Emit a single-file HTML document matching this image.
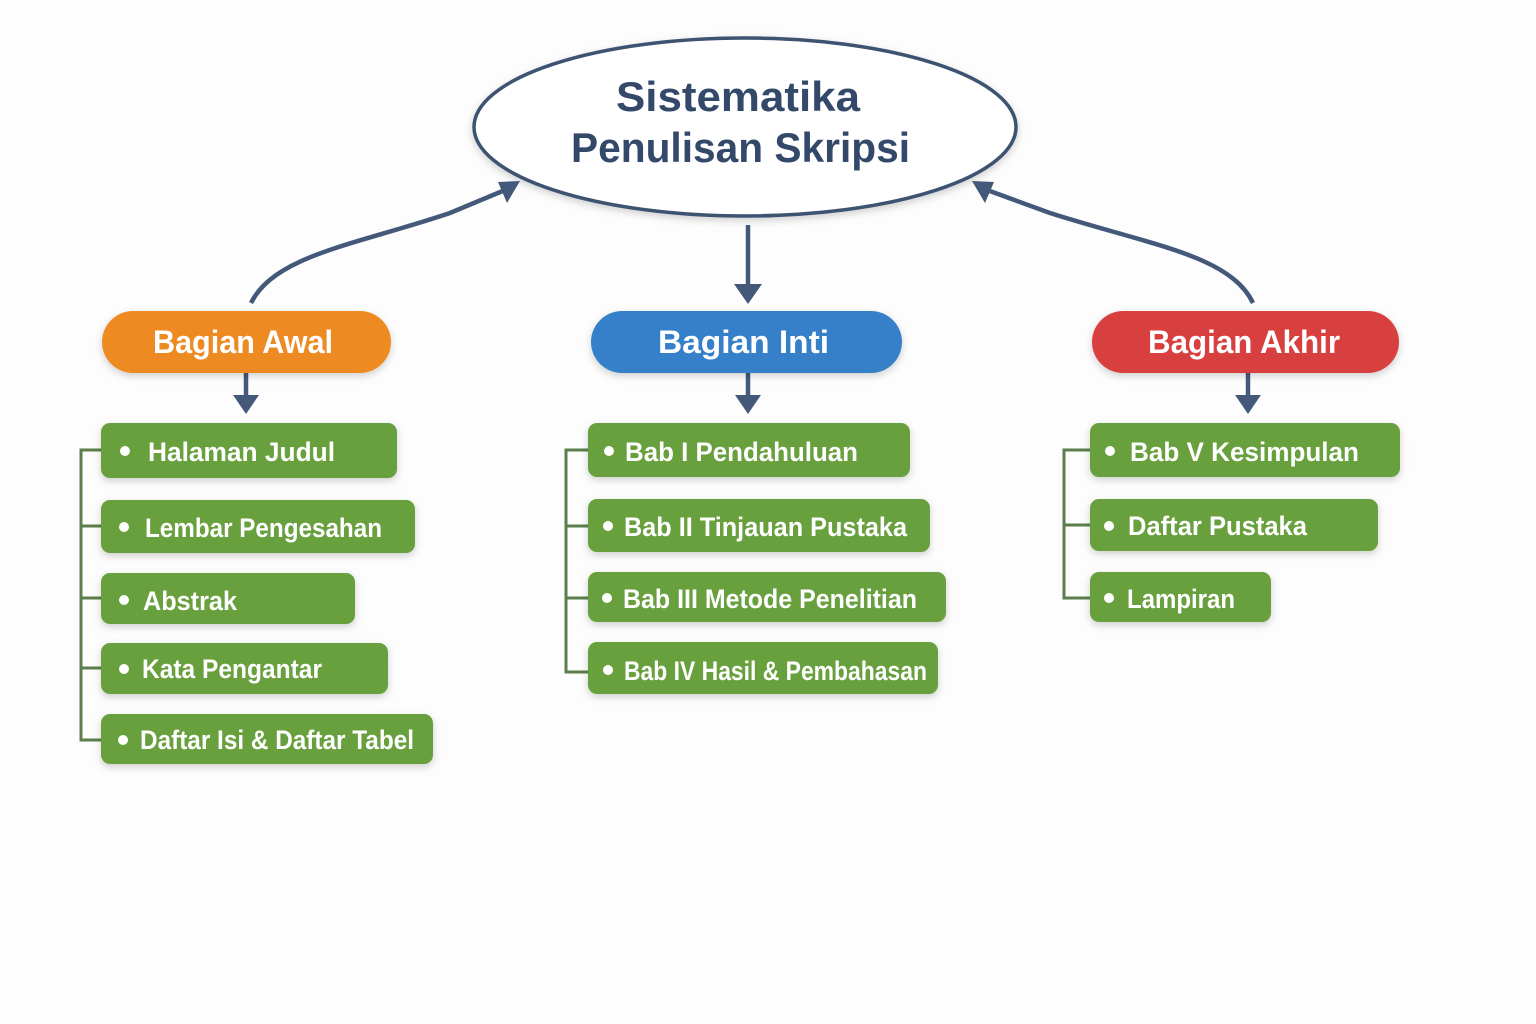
<!DOCTYPE html>
<html><head><meta charset="utf-8"><style>
html,body{margin:0;padding:0;background:#fdfdfd;}
svg{display:block;font-family:"Liberation Sans",sans-serif;font-weight:bold;}
</style></head><body>
<svg width="1536" height="1024" viewBox="0 0 1536 1024" xmlns="http://www.w3.org/2000/svg">
<defs>
<filter id="sh" x="-10%" y="-20%" width="120%" height="160%"><feDropShadow dx="0" dy="3" stdDeviation="4" flood-color="#000" flood-opacity="0.18"/></filter>
</defs>
<rect width="1536" height="1024" fill="#fdfdfd"/>
<!-- ellipse -->
<ellipse cx="745" cy="127" rx="271" ry="89" fill="#fff" stroke="#3e5272" stroke-width="3.5" filter="url(#sh)"/>
<text x="616" y="111" fill="#34496a" font-size="42" textLength="244" lengthAdjust="spacingAndGlyphs">Sistematika</text>
<text x="571" y="162" fill="#34496a" font-size="42" textLength="339" lengthAdjust="spacingAndGlyphs">Penulisan Skripsi</text>
<!-- connectors -->
<g stroke="#44597a" stroke-width="4.5" fill="none">
<path d="M251,303 C275,255 355,245 450,213 L505,190"/>
<path d="M1253,303 C1230,255 1150,245 1050,213 L987,190"/>
<line x1="748" y1="225" x2="748" y2="288"/>
<line x1="246" y1="373" x2="246" y2="398"/>
<line x1="748" y1="373" x2="748" y2="398"/>
<line x1="1248" y1="373" x2="1248" y2="398"/>
</g>
<g fill="#44597a">
<polygon points="520,181 498,182 507,203"/>
<polygon points="972,181 994,182 985,203"/>
<polygon points="734,284 762,284 748,304"/>
<polygon points="233,395 259,395 246,414"/>
<polygon points="735,395 761,395 748,414"/>
<polygon points="1235,395 1261,395 1248,414"/>
</g>
<!-- tree lines -->
<g stroke="#5c7d4c" stroke-width="3" fill="none">
<path d="M101,450 H81 V740 H101 M81,526 H101 M81,598 H101 M81,668 H101"/>
<path d="M588,450 H566 V672 H588 M566,526 H588 M566,598 H588"/>
<path d="M1090,450 H1064 V598 H1090 M1064,525 H1090"/>
</g>
<!-- headers -->
<g filter="url(#sh)">
<rect x="102" y="311" width="289" height="62" rx="31" fill="#ee8a22"/>
<rect x="591" y="311" width="311" height="62" rx="31" fill="#3580c8"/>
<rect x="1092" y="311" width="307" height="62" rx="31" fill="#d84040"/>
</g>
<g fill="#fff" font-size="32">
<text x="153" y="353" textLength="180" lengthAdjust="spacingAndGlyphs">Bagian Awal</text>
<text x="658" y="353" textLength="171" lengthAdjust="spacingAndGlyphs">Bagian Inti</text>
<text x="1148" y="353" textLength="192" lengthAdjust="spacingAndGlyphs">Bagian Akhir</text>
</g>
<!-- green boxes -->
<g fill="#68a03c" filter="url(#sh)">
<rect x="101" y="423" width="296" height="55" rx="9"/>
<rect x="101" y="500" width="314" height="53" rx="9"/>
<rect x="101" y="573" width="254" height="51" rx="9"/>
<rect x="101" y="643" width="287" height="51" rx="9"/>
<rect x="101" y="714" width="332" height="50" rx="9"/>
<rect x="588" y="423" width="322" height="54" rx="9"/>
<rect x="588" y="499" width="342" height="53" rx="9"/>
<rect x="588" y="572" width="358" height="50" rx="9"/>
<rect x="588" y="642" width="350" height="52" rx="9"/>
<rect x="1090" y="423" width="310" height="54" rx="9"/>
<rect x="1090" y="499" width="288" height="52" rx="9"/>
<rect x="1090" y="572" width="181" height="50" rx="9"/>
</g>
<g fill="#fff">
<circle cx="125" cy="451" r="5"/><circle cx="124" cy="527" r="5"/><circle cx="124" cy="600" r="5"/><circle cx="124" cy="669" r="5"/><circle cx="123" cy="740" r="5"/>
<circle cx="609" cy="451" r="5"/><circle cx="608" cy="526" r="5"/><circle cx="607" cy="598" r="5"/><circle cx="608" cy="670" r="5"/>
<circle cx="1110" cy="451" r="5"/><circle cx="1109" cy="526" r="5"/><circle cx="1109" cy="598" r="5"/>
</g>
<g fill="#fff" font-size="27">
<text x="148" y="461" textLength="187" lengthAdjust="spacingAndGlyphs">Halaman Judul</text>
<text x="145" y="537" textLength="237" lengthAdjust="spacingAndGlyphs">Lembar Pengesahan</text>
<text x="143" y="610" textLength="94" lengthAdjust="spacingAndGlyphs">Abstrak</text>
<text x="142" y="678" textLength="180" lengthAdjust="spacingAndGlyphs">Kata Pengantar</text>
<text x="140" y="749" textLength="274" lengthAdjust="spacingAndGlyphs">Daftar Isi &amp; Daftar Tabel</text>
<text x="625" y="461" textLength="233" lengthAdjust="spacingAndGlyphs">Bab I Pendahuluan</text>
<text x="624" y="536" textLength="283" lengthAdjust="spacingAndGlyphs">Bab II Tinjauan Pustaka</text>
<text x="623" y="608" textLength="294" lengthAdjust="spacingAndGlyphs">Bab III Metode Penelitian</text>
<text x="624" y="680" textLength="303" lengthAdjust="spacingAndGlyphs">Bab IV Hasil &amp; Pembahasan</text>
<text x="1130" y="461" textLength="229" lengthAdjust="spacingAndGlyphs">Bab V Kesimpulan</text>
<text x="1128" y="535" textLength="179" lengthAdjust="spacingAndGlyphs">Daftar Pustaka</text>
<text x="1127" y="608" textLength="108" lengthAdjust="spacingAndGlyphs">Lampiran</text>
</g>
</svg>
</body></html>
